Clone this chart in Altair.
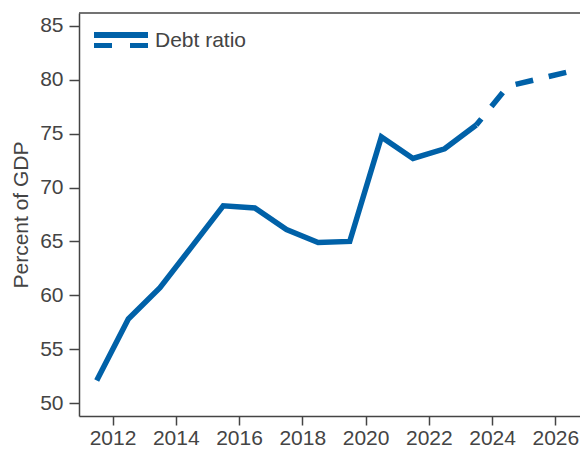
import altair as alt
import pandas as pd

years = [2011.5, 2012.5, 2013.5, 2014.5, 2015.5, 2016.5, 2017.5, 2018.5,
         2019.5, 2020.5, 2021.5, 2022.5, 2023.5, 2024.5, 2025.5, 2026.5]
debt = [52.1, 57.8, 60.7, 64.5, 68.3, 68.1, 66.1, 64.9,
        65.0, 74.7, 72.7, 73.6, 75.8, 79.4, 80.1, 80.8]
projected_from = 2023.5

COLOR = "#0061a8"
GRAY = "#444444"
FONT = "Liberation Sans"

df = pd.DataFrame({"year": years, "debt": debt})
hist = df[df.year <= projected_from]
proj = df[df.year >= projected_from]

W, H = 501, 403
xs = alt.Scale(domain=[2010.94, 2026.78], nice=False, zero=False)
ys = alt.Scale(domain=[48.8, 86.2], nice=False, zero=False)

xaxis = alt.Axis(values=list(range(2012, 2027, 2)), format="d", title=None,
                 grid=False, domainColor=GRAY, domainWidth=1.5, tickColor=GRAY,
                 tickWidth=1.5, tickSize=9, labelFont=FONT, labelFontSize=21,
                 labelColor=GRAY, labelPadding=2)
yaxis = alt.Axis(values=list(range(50, 86, 5)), title="Percent of GDP", grid=False,
                 domainColor=GRAY, domainWidth=1.5, tickColor=GRAY, tickWidth=1.5,
                 tickSize=10, labelFont=FONT, labelFontSize=21, labelColor=GRAY,
                 labelPadding=6, titleFont=FONT, titleFontSize=21, titleColor=GRAY,
                 titleFontWeight="normal", titlePadding=8)

solid = alt.Chart(hist).mark_line(color=COLOR, strokeWidth=5.5, clip=True).encode(
    x=alt.X("year:Q", scale=xs, axis=xaxis),
    y=alt.Y("debt:Q", scale=ys, axis=yaxis),
)
dashed = alt.Chart(proj).mark_line(color=COLOR, strokeWidth=5.5, strokeDash=[18, 16],
                                   strokeDashOffset=10, clip=True).encode(
    x=alt.X("year:Q", scale=xs),
    y=alt.Y("debt:Q", scale=ys),
)

top_border = alt.Chart(pd.DataFrame({"a": [0]})).mark_rule(color=GRAY, strokeWidth=1.5).encode(
    x=alt.value(0), x2=alt.value(W), y=alt.value(0)
)

leg_solid = alt.Chart(pd.DataFrame({"a": [0]})).mark_rule(color=COLOR, strokeWidth=6).encode(
    x=alt.value(15), x2=alt.value(69), y=alt.value(22)
)
leg_dash = alt.Chart(pd.DataFrame({"a": [0]})).mark_rule(color=COLOR, strokeWidth=5,
                                                         strokeDash=[18, 18]).encode(
    x=alt.value(15), x2=alt.value(69), y=alt.value(32.5)
)
leg_text = alt.Chart(pd.DataFrame({"t": ["Debt ratio"]})).mark_text(
    align="left", baseline="alphabetic", font=FONT, fontSize=21, color=GRAY
).encode(x=alt.value(76), y=alt.value(34), text="t:N")

chart = alt.layer(solid, dashed, top_border, leg_solid, leg_dash, leg_text).properties(
    width=W, height=H, autosize="none",
    padding={"left": 71, "top": 5, "right": 0, "bottom": 31},
).configure_view(stroke=None)

chart.save("out.html", embed_options={"renderer": "svg", "actions": False})
